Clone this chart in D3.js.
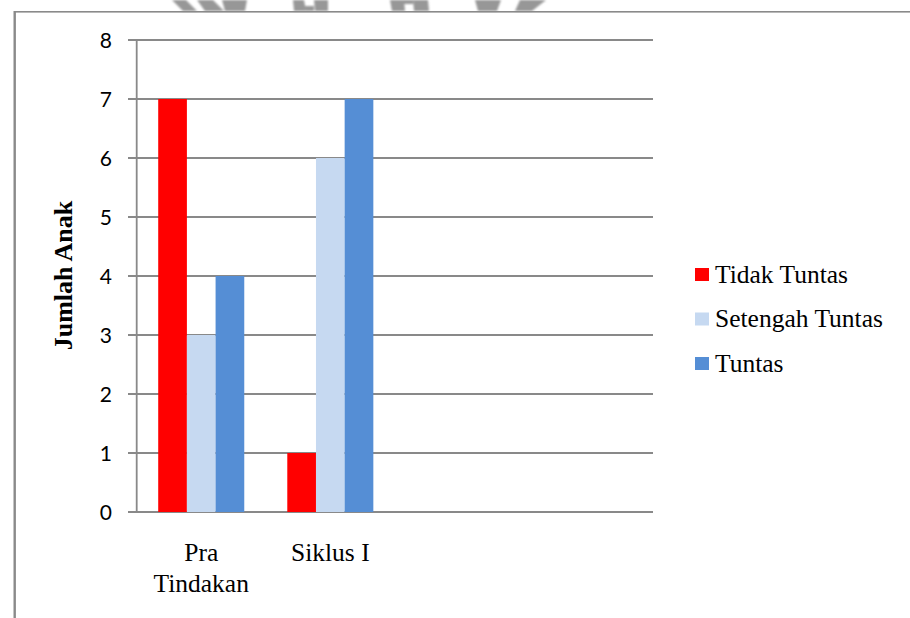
<!DOCTYPE html>
<html>
<head>
<meta charset="utf-8">
<script src="https://cdn.jsdelivr.net/npm/d3@7"></script>
<style>
  html, body { margin: 0; padding: 0; background: #ffffff; }
  svg { display: block; }
  .serif { font-family: "Liberation Serif", "Times New Roman", serif; }
  .sans { font-family: Lato, "Open Sans", sans-serif; }
</style>
</head>
<body>
<svg id="chart" width="910" height="618"></svg>
<script>
// Category slots on the x axis (the last two are left empty)
const categories = ["Pra Tindakan", "Siklus I", "", ""];
const categoryLines = [["Pra", "Tindakan"], ["Siklus I"], [], []];

// Series, one value per filled category
const seriesNames = ["Tidak Tuntas", "Setengah Tuntas", "Tuntas"];
const tidakTuntas = [7, 1];
const setengahTuntas = [3, 6];
const tuntas = [4, 7];
const seriesColors = ["#FF0000", "#C6D9F1", "#558ED5"];

// Y axis ticks
const yTicks = [0, 1, 2, 3, 4, 5, 6, 7, 8];
const yTitle = "Jumlah Anak";

const seriesValues = [tidakTuntas, setengahTuntas, tuntas];

const svg = d3.select("#chart");
const gridColor = "#898989";

// Soft stamp strokes along the top edge
svg.append("defs").append("filter").attr("id", "soft")
  .append("feGaussianBlur").attr("stdDeviation", 0.8);
const stamp = svg.append("g").attr("fill", "#979797").attr("filter", "url(#soft)");
const stampShapes = [
  "M172,0 L186,0 L197,11 L183,11 Z",
  "M197,0 L213,0 L224,11 L205,11 Z",
  "M222,0 L247,0 L245,11 L225,11 Z",
  "M293,0 L304,0 L306,11 L294,11 Z",
  "M314,0 L328,0 L328,11 L315,11 Z",
  "M304,6 L314,6 L314,11 L306,11 Z",
  "M390,0 L404,0 L405,11 L392,11 Z",
  "M413,0 L428,0 L429,11 L414,11 Z",
  "M404,0 L413,0 L413,4 L404,4 Z",
  "M475,0 L501,0 L497,11 L478,11 Z",
  "M520,0 L546,0 L532,11 L515,11 Z"
];
stamp.selectAll("path").data(stampShapes).join("path").attr("d", d => d);

// Page frame: left and top rules
svg.append("rect").attr("x", 14).attr("y", 11).attr("width", 910).attr("height", 1.6).attr("fill", "#8a8a8a");
svg.append("rect").attr("x", 13.5).attr("y", 11).attr("width", 2.4).attr("height", 618).attr("fill", "#8a8a8a");

// Plot geometry
const plotLeft = 136.7, plotRight = 653, plotTop = 40, plotBottom = 512;

const x = d3.scaleBand()
  .domain(d3.range(categories.length))
  .range([plotLeft, plotRight])
  .paddingInner(0).paddingOuter(0);

const xSeries = d3.scaleBand()
  .domain(seriesNames)
  .range([0, x.bandwidth()])
  .paddingInner(0).paddingOuter(0.75);

const y = d3.scaleLinear().domain([0, 8]).range([plotBottom, plotTop]);

// Horizontal gridlines, extended left as tick marks
svg.append("g").selectAll("line").data(yTicks).join("line")
  .attr("x1", 128).attr("x2", plotRight)
  .attr("y1", d => y(d)).attr("y2", d => y(d))
  .attr("stroke", gridColor).attr("stroke-width", 1.8);

// Bars
const filled = d3.range(tidakTuntas.length);
const groups = svg.append("g").selectAll("g").data(filled).join("g")
  .attr("transform", i => `translate(${x(i)},0)`);
groups.selectAll("rect")
  .data(i => seriesNames.map((name, s) => ({ name, s, value: seriesValues[s][i] })))
  .join("rect")
  .attr("x", d => xSeries(d.name))
  .attr("width", xSeries.bandwidth())
  .attr("y", d => y(d.value))
  .attr("height", d => y(0) - y(d.value))
  .attr("fill", d => seriesColors[d.s]);

// Value axis line
svg.append("line")
  .attr("x1", plotLeft).attr("x2", plotLeft)
  .attr("y1", plotTop).attr("y2", plotBottom)
  .attr("stroke", gridColor).attr("stroke-width", 1.8);

// Y tick labels
const yAxis = d3.axisLeft(y).tickValues(yTicks).tickSize(0).tickPadding(0).tickFormat(d3.format("d"));
const yAxisG = svg.append("g").attr("transform", "translate(112,0)").call(yAxis);
yAxisG.attr("font-family", null).attr("font-size", null);
yAxisG.select(".domain").remove();
yAxisG.selectAll("text")
  .attr("class", "sans")
  .style("font-size", "21px")
  .attr("fill", "#000")
  .attr("dy", "0.35em");

// Category labels (wrapped over lines)
const xAxis = d3.axisBottom(x).tickSize(0).tickFormat(() => "");
const xAxisG = svg.append("g").attr("transform", `translate(0,${plotBottom})`).call(xAxis);
xAxisG.attr("font-family", null).attr("font-size", null);
xAxisG.select(".domain").remove();
xAxisG.selectAll(".tick text").remove();
xAxisG.selectAll(".tick").append("text")
  .attr("class", "serif")
  .attr("text-anchor", "middle")
  .style("font-size", "25.5px")
  .attr("fill", "#000")
  .selectAll("tspan")
  .data(i => categoryLines[i])
  .join("tspan")
  .attr("x", 0)
  .attr("y", (d, k) => 49 + k * 31)
  .text(d => d);

// Y axis title
svg.append("text")
  .attr("class", "serif")
  .attr("transform", "translate(72,275.5) rotate(-90)")
  .attr("text-anchor", "middle")
  .style("font-weight", "bold")
  .style("font-size", "26px")
  .attr("fill", "#000")
  .text(yTitle);

// Legend
const legend = svg.append("g").selectAll("g").data(seriesNames).join("g")
  .attr("transform", (d, k) => `translate(695,${274.5 + k * 44.5})`);
legend.append("rect")
  .attr("x", 0).attr("y", -6.5).attr("width", 14).attr("height", 13)
  .attr("fill", (d, k) => seriesColors[k]);
legend.append("text")
  .attr("class", "serif")
  .attr("x", 20).attr("y", 8)
  .style("font-size", "25.5px")
  .attr("fill", "#000")
  .text(d => d);
</script>
</body>
</html>
